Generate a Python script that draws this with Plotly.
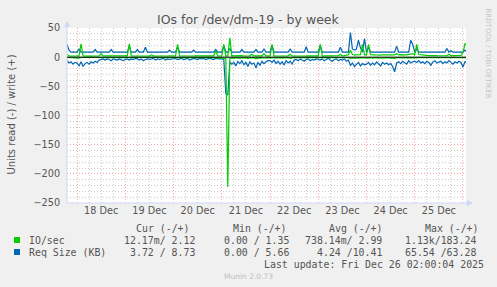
import plotly.graph_objects as go
import pandas as pd

# ---------------- data (hourly, 17 Dec 19:00 -> 26 Dec 02:00) ----------------
title = "IOs for /dev/dm-19 - by week"
y_title = "Units read (-) / write (+)"
start_time = "2025-12-17 19:00"

# IO/sec write (+)
io_write = (
    [5, 2.1, 2.0, 2.2, 2.0]
    + [2.1, 2.0, 23, 2.2, 2.0, 2.1, 2.0, 2.2, 2.1, 2.0, 2.3, 2.1, 6, 2.0, 2.1, 2.2, 2.0, 2.1, 2.0, 2.2, 2.1, 2.0, 2.1, 2.0]
    + [2.0, 2.1, 23, 2.2, 2.0, 2.1, 2.0, 2.2, 2.1, 2.0, 2.2, 2.1, 2.0, 4, 2.1, 2.0, 2.2, 2.1, 2.0, 2.1, 2.2, 2.0, 2.1, 2.0]
    + [2.1, 2.0, 22, 2.1, 2.0, 2.2, 2.1, 2.0, 2.1, 2.2, 2.0, 2.1, 2.0, 2.2, 2.1, 2.0, 2.1, 2.2, 2.0, 2.1, 2.3, 11, 2.1, 2.0]
    + [2.1, 22, 2.2, 2.0, 33, 2.1, 2.4, 2.0, 2.2, 2.1, 2.5, 2.0, 2.2, 2.1, 2.3, 5, 2.1, 2.4, 2.0, 2.2, 2.1, 6, 2.0, 2.1]
    + [2.0, 22, 2.1, 2.0, 2.2, 2.1, 2.0, 2.2, 2.1, 2.3, 5, 2.1, 2.0, 2.2, 2.1, 2.0, 2.2, 2.1, 2.0, 2.1, 2.2, 2.0, 2.1, 2.0]
    + [2.1, 22, 2.0, 2.2, 2.1, 2.0, 2.2, 2.1, 2.3, 2.0, 2.4, 5, 2.2, 2.5, 3.5, 4.0, 12, 4.5, 3.8, 4.2, 3.6, 4.4, 22, 4.0]
    + [3.8, 22, 4.2, 3.5, 4.0, 3.7, 4.3, 3.6, 4.1, 3.9, 4.5, 3.8, 4.2, 3.6, 4.0, 6, 3.8, 4.3, 3.7, 4.1, 3.9, 4.4, 5, 6]
    + [4.0, 22, 4.5, 3.8, 3.6, 3.2, 3.0, 2.8, 3.1, 2.7, 2.9, 2.6, 2.8, 2.5, 2.7, 2.6, 2.4, 5, 2.6, 2.5, 2.7, 2.4, 2.6, 3]
    + [8, 23, 20]
)

# IO/sec read (-), magnitudes
io_read = (
    [0.6, 0.8, 0.5, 0.7, 0.6]
    + [0.7, 1.5, 0.6, 0.8, 0.5, 0.7, 0.6, 0.9, 0.5, 0.6, 0.8, 0.5, 0.7, 0.6, 0.5, 0.8, 0.6, 0.7, 0.5, 0.6, 0.8, 0.5, 0.7, 0.6]
    + [0.6, 0.8, 1.2, 0.5, 0.7, 0.6, 0.5, 0.8, 0.6, 0.7, 0.5, 0.6, 0.9, 0.5, 0.7, 0.6, 0.5, 0.8, 0.6, 0.7, 0.5, 0.6, 0.8, 0.5]
    + [0.7, 0.6, 1.0, 0.5, 0.8, 0.6, 0.7, 0.5, 0.6, 0.9, 0.5, 0.7, 0.6, 0.5, 0.8, 0.6, 0.7, 0.5, 0.6, 0.8, 0.5, 1.2, 0.6, 0.7]
    + [0.6, 1.5, 2.0, 222, 1.8, 1.2, 2.5, 0.9, 1.6, 2.2, 1.0, 1.8, 0.8, 2.4, 1.1, 1.5, 0.9, 2.8, 1.2, 1.6, 0.8, 1.4, 1.0, 0.7]
    + [0.8, 1.2, 0.6, 1.5, 0.9, 1.8, 0.7, 1.3, 0.6, 1.0, 2.0, 0.8, 0.6, 0.9, 0.5, 0.7, 0.6, 0.8, 0.5, 0.7, 0.6, 0.5, 0.8, 0.6]
    + [0.7, 0.9, 0.6, 0.8, 0.5, 0.7, 0.6, 0.8, 0.5, 0.7, 0.6, 1.2, 0.7, 0.8, 1.0, 0.9, 2.2, 1.5, 1.8, 1.2, 1.6, 1.0, 1.4, 1.1]
    + [1.3, 1.6, 1.0, 1.8, 1.2, 0.9, 1.5, 1.1, 1.7, 1.0, 1.3, 0.9, 1.6, 1.2, 2.5, 1.0, 0.9, 1.4, 0.8, 1.1, 0.9, 1.2, 1.5, 1.3]
    + [1.0, 1.2, 0.8, 1.1, 0.7, 0.9, 0.8, 1.0, 0.7, 1.5, 0.8, 0.9, 0.7, 1.0, 0.8, 0.9, 0.7, 1.1, 0.8, 0.9, 0.7, 0.8, 0.9, 0.8]
    + [1.2, 0.9, 0.8]
)

# Req Size (KB) write (+)
rs_write = (
    [22, 12, 8.7, 8.7, 8.7]
    + [8.7, 14, 8.7, 8.7, 8.7, 8.7, 8.7, 8.7, 8.7, 13, 8.7, 8.7, 8.7, 8.7, 8.7, 8.7, 8.7, 13, 8.7, 8.7, 8.7, 8.7, 8.7, 8.7]
    + [8.7, 8.7, 19, 8.7, 8.7, 8.7, 13, 8.7, 8.7, 8.7, 17, 8.7, 8.7, 8.7, 8.7, 8.7, 8.7, 8.7, 8.7, 8.7, 8.7, 8.7, 12, 8.7]
    + [8.7, 8.7, 17, 8.7, 8.7, 8.7, 8.7, 8.7, 8.7, 8.7, 12, 8.7, 8.7, 8.7, 8.7, 8.7, 8.7, 8.7, 8.7, 8.7, 8.7, 13, 8.7, 8.7]
    + [8.7, 20, 8.7, 8.7, 15, 8.7, 8.7, 8.7, 8.7, 8.7, 13, 8.7, 8.7, 8.7, 8.7, 8.7, 8.7, 13, 8.7, 8.7, 8.7, 14, 8.7, 8.7]
    + [8.7, 20, 8.7, 8.7, 8.7, 8.7, 8.7, 8.7, 8.7, 8.7, 14, 8.7, 8.7, 8.7, 8.7, 8.7, 8.7, 8.7, 18, 8.7, 8.7, 8.7, 8.7, 8.7]
    + [8.7, 20, 8.7, 8.7, 8.7, 8.7, 8.7, 8.7, 8.7, 8.7, 8.7, 17, 8.7, 8.7, 8.7, 8.7, 42, 14, 12, 14, 29, 16, 8.7, 32]
    + [8.7, 17, 8.7, 8.7, 8.7, 8.7, 8.7, 8.7, 8.7, 8.7, 8.7, 8.7, 8.7, 8.7, 8.7, 19, 8.7, 8.7, 8.7, 8.7, 8.7, 8.7, 29, 22]
    + [8.7, 14, 8.7, 8.7, 8.7, 8.7, 8.7, 8.7, 8.7, 8.7, 8.7, 8.7, 8.7, 8.7, 8.7, 8.7, 15, 8.7, 11, 8.7, 8.7, 8.7, 8.7, 8.7]
    + [8.7, 12, 8.7]
)

# Req Size (KB) read (-), magnitudes
rs_read = (
    [6, 10, 8, 12, 9]
    + [10, 15, 8, 16, 11, 9, 12, 8, 10, 7, 9, 5, 4, 3, 5, 3, 4, 6, 3, 4, 5, 3, 4, 6]
    + [4, 3, 5, 3, 4, 2, 3, 5, 3, 6, 4, 3, 4, 3, 2, 5, 3, 4, 3, 2, 5, 3, 4, 3]
    + [3, 2, 4, 3, 2, 4, 3, 2, 5, 3, 2, 3, 4, 2, 3, 2, 4, 3, 2, 3, 4, 2, 3, 3]
    + [3, 4, 62, 65, 8, 12, 9, 15, 7, 11, 6, 13, 9, 16, 8, 12, 10, 18, 9, 14, 7, 11, 8, 6]
    + [6, 9, 5, 11, 7, 12, 8, 13, 6, 10, 7, 12, 5, 4, 6, 3, 5, 7, 4, 3, 6, 4, 5, 3]
    + [4, 5, 3, 6, 4, 2, 5, 7, 4, 3, 6, 4, 5, 3, 7, 5, 14, 10, 16, 12, 9, 15, 11, 13]
    + [12, 9, 14, 10, 13, 8, 11, 15, 9, 12, 10, 13, 11, 16, 25, 10, 8, 11, 7, 9, 12, 6, 10, 8]
    + [7, 9, 6, 10, 8, 11, 7, 9, 14, 8, 6, 10, 9, 7, 11, 8, 10, 6, 9, 12, 8, 10, 7, 9]
    + [17, 8, 9]
)

legend_names = ["IO/sec", "Req Size (KB)"]
legend_colors = ["#00cc00", "#0066b3"]
col_headers = ["Cur (-/+)", "Min (-/+)", "Avg (-/+)", "Max (-/+)"]
io_stats = ["12.17m/ 2.12", "0.00 / 1.35", "738.14m/ 2.99", "1.13k/183.24"]
rs_stats = ["3.72 / 8.73", "0.00 / 5.66", "4.24 /10.41", "65.54 /63.28"]
last_update = "Last update: Fri Dec 26 02:00:04 2025"
version = "Munin 2.0.73"
side_text = "RRDTOOL / TOBI OETIKER"

n = len(io_write)
assert n == len(io_read) == len(rs_write) == len(rs_read) == 200
times = pd.date_range(start_time, periods=n, freq="h")

# ---------------- layout helpers ----------------
W, H = 497, 287
L, R, T, B = 67, 466, 28, 203


def px(x):
    return (x - L) / (R - L)


def py(y):
    return (B - y) / (B - T)


GREEN, BLUE = legend_colors
fig = go.Figure()
lw = 1.2
fig.add_trace(go.Scatter(x=times, y=[-v for v in rs_read], mode="lines",
                         line=dict(color=BLUE, width=lw), showlegend=False))
fig.add_trace(go.Scatter(x=times, y=rs_write, mode="lines",
                         line=dict(color=BLUE, width=lw), showlegend=False))
fig.add_trace(go.Scatter(x=times, y=[-v for v in io_read], mode="lines",
                         line=dict(color=GREEN, width=lw), showlegend=False))
fig.add_trace(go.Scatter(x=times, y=io_write, mode="lines",
                         line=dict(color=GREEN, width=lw), showlegend=False))

FONT = "DejaVu Sans"
MONO = "DejaVu Sans Mono"
TXT = "#555555"
MGRID = "rgba(235,60,60,0.45)"
GRID = "rgba(128,128,128,0.40)"
AXC = "#CFD6F8"

ann = []
ann.append(dict(text=title, x=px(248.5), y=py(20), xanchor="center", yanchor="middle",
                font=dict(family=FONT, size=12.5, color=TXT)))
ann.append(dict(text=y_title, x=px(10.5), y=py(115), textangle=-90, xanchor="center",
                yanchor="middle", font=dict(family=FONT, size=10, color=TXT)))
ann.append(dict(text=side_text, x=px(487.5), y=py(54), textangle=90, xanchor="center",
                yanchor="middle", font=dict(family=FONT, size=7, color="#c4c4c4")))
hdr_left = [134, 231, 327, 423]
for h, xl in zip(col_headers, hdr_left):
    ann.append(dict(text=h, x=px(xl), y=py(228), xanchor="left", yanchor="middle",
                    font=dict(family=MONO, size=9.9, color=TXT)))
val_right = [197, 291, 384, 478]
for row_y, name, stats in [(240, legend_names[0], io_stats), (252, legend_names[1], rs_stats)]:
    ann.append(dict(text=name, x=px(27), y=py(row_y), xanchor="left", yanchor="middle",
                    font=dict(family=MONO, size=9.9, color=TXT)))
    for s, xr in zip(stats, val_right):
        ann.append(dict(text=s, x=px(xr), y=py(row_y), xanchor="right", yanchor="middle",
                        font=dict(family=MONO, size=9.9, color=TXT)))
ann.append(dict(text=last_update, x=px(262), y=py(264), xanchor="left", yanchor="middle",
                font=dict(family=MONO, size=9.9, color=TXT)))
ann.append(dict(text=version, x=px(248), y=py(276), xanchor="center", yanchor="middle",
                font=dict(family=FONT, size=7.5, color="#c0c0c0")))
for a in ann:
    a.update(xref="paper", yref="paper", showarrow=False)

shapes = []
# legend colour boxes
for i, c in enumerate(legend_colors):
    yc = 240 + 12 * i
    shapes.append(dict(type="rect", xref="paper", yref="paper", x0=px(14), x1=px(20),
                       y0=py(yc + 3), y1=py(yc - 3), fillcolor=c, line=dict(width=0)))
# axis lines + arrows
shapes.append(dict(type="line", xref="paper", yref="paper", x0=0, x1=px(469), y0=0, y1=0,
                   line=dict(color=AXC, width=1), layer="above"))
shapes.append(dict(type="line", xref="paper", yref="paper", x0=0, x1=0, y0=0, y1=py(23),
                   line=dict(color=AXC, width=1), layer="above"))
shapes.append(dict(type="path", xref="paper", yref="paper",
                   path=f"M {px(467)},{py(200)} L {px(473)},{py(203)} L {px(467)},{py(206)} Z",
                   fillcolor=AXC, line=dict(width=0)))
shapes.append(dict(type="path", xref="paper", yref="paper",
                   path=f"M {px(64)},{py(27)} L {px(67)},{py(21)} L {px(70)},{py(27)} Z",
                   fillcolor=AXC, line=dict(width=0)))
# zero rule
shapes.append(dict(type="line", xref="paper", yref="y", x0=0, x1=1, y0=0, y1=0,
                   line=dict(color="#000000", width=1), layer="above"))

fig.update_layout(
    width=W, height=H,
    margin=dict(l=L, r=W - R, t=T, b=H - B, pad=0),
    paper_bgcolor="#F0F0F0", plot_bgcolor="#FFFFFF",
    showlegend=False,
    annotations=ann, shapes=shapes,
    xaxis=dict(
        type="date",
        range=["2025-12-17 19:00", "2025-12-26 01:30"],
        tick0="2025-12-18", dtick=86400000,
        tickformat="%d %b", ticklabelmode="period",
        showgrid=True, gridcolor=MGRID, griddash="1px,2px", gridwidth=1,
        minor=dict(dtick=21600000, tick0="2025-12-18", showgrid=True,
                   gridcolor=GRID, griddash="1px,2px", gridwidth=1),
        ticks="", showline=False, zeroline=False,
        tickfont=dict(family=FONT, size=9.7, color=TXT),
    ),
    yaxis=dict(
        range=[-250, 50], dtick=50, tick0=0,
        showgrid=True, gridcolor=MGRID, griddash="1px,2px", gridwidth=1,
        minor=dict(dtick=10, showgrid=True, gridcolor=GRID, griddash="1px,2px", gridwidth=1),
        ticks="outside", ticklen=4, tickcolor="rgba(0,0,0,0)",
        showline=False, zeroline=False,
        tickfont=dict(family=FONT, size=9.7, color=TXT),
    ),
)

fig.write_html("out.html")
